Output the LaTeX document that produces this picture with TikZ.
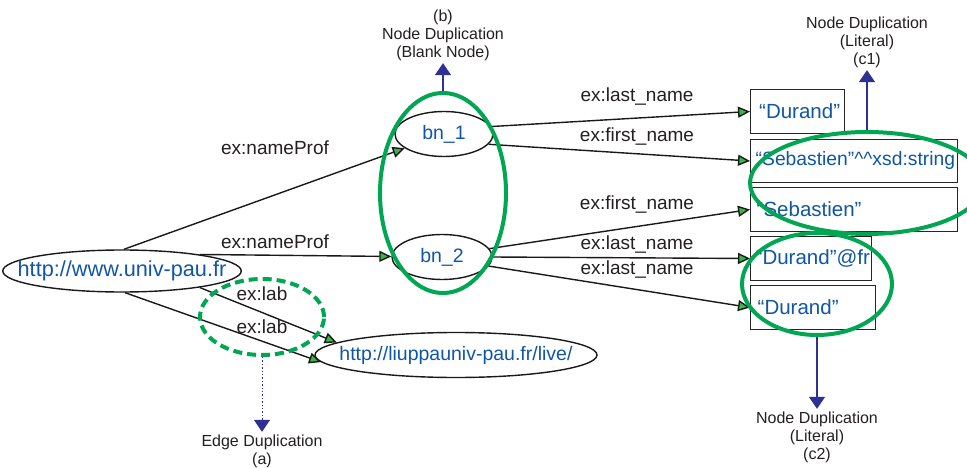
\documentclass[tikz,border=0pt]{standalone}
\usepackage{fontspec}
\setmainfont{Liberation Sans}
\usetikzlibrary{shapes.geometric,arrows.meta}
\tikzset{
    every picture/.style={
        line width=1.4pt
    },
    % Style for the resource and blank nodes
    uri node/.style={
        ellipse, draw=black!90, inner xsep=-20pt, inner ysep=0pt,
        text=uriBlue, font=\fontsize{19.5}{22}\selectfont
    },
    blank node/.style={
        uri node, font=\fontsize{19.5}{22}\selectfont
    },
    % Style for the literal boxes
    literal box/.style={
        rectangle, draw=black!85, fill=white, anchor=north west,
        minimum height=43.6pt, inner xsep=6pt, align=left,
        text=uriBlue, font=\fontsize{20.5}{23}\selectfont
    },
    % Style for the edge labels
    edge label/.style={
        text=labelGray, inner sep=0pt,
        font=\fontsize{19}{22}\selectfont
    },
    triple/.style={
        draw=black!90, -{Triangle[length=12pt,width=11pt,fill=arrowGreen]}
    },
    % Style for the duplication marks
    dup ring/.style={
        ellipse, draw=ringGreen, line width=4pt, inner sep=0pt
    },
    dup label/.style={
        align=center, text=labelGray, inner sep=2pt,
        font=\fontsize{16}{18}\selectfont
    },
    dup arrow/.style={
        draw=navy, line width=1.4pt, -{Triangle[length=12pt,width=16pt,fill=navy]}
    }
}
\definecolor{uriBlue}{RGB}{16,86,166}
\definecolor{labelGray}{RGB}{35,31,32}
\definecolor{arrowGreen}{RGB}{57,181,74}
\definecolor{ringGreen}{RGB}{0,166,81}
\definecolor{navy}{RGB}{46,49,146}

\begin{document}
\begin{tikzpicture}[x=1pt,y=-1pt]

% Set the canvas size
\path[use as bounding box] (0,0) rectangle (967,468);

% Resources and blank nodes
\node[uri node, font=\fontsize{21.7}{24}\selectfont, minimum width=222pt, minimum height=42pt] (univ) at (122,271) {http://www.univ-pau.fr};
\node[blank node, minimum width=98pt, minimum height=45pt] (bn1) at (444,134) {bn\_1};
\node[blank node, minimum width=100pt, minimum height=45pt] (bn2) at (442,257) {bn\_2};
\node[uri node, minimum width=282pt, minimum height=45pt] (live) at (456,355) {http://liuppauniv-pau.fr/live/};

% Literals
\node[literal box, text width=77pt, inner xsep=8.5pt] (durandA) at (750,89) {“Durand”};
\node[literal box, font=\fontsize{19.3}{22}\selectfont, text width=196.6pt, inner xsep=5pt, minimum height=42.6pt] (sebTyped) at (750,139) {“Sebastien”\textasciicircum\textasciicircum xsd:string};
\node[literal box, text width=194.6pt] (seb) at (750,187) {“Sebastien”};
\node[literal box, text width=110.6pt, inner xsep=5pt] (durandFr) at (750,236) {“Durand”@fr};
\node[literal box, text width=110.6pt, inner xsep=7pt] (durandB) at (750,285) {“Durand”};

% Triples
\draw[triple] (univ.85) -- (bn1);
\draw[triple] (univ.12) -- (bn2);
\draw[triple] (univ.-12) -- (live.174);
\draw[triple] (univ.-82) -- (live.183);
\draw[triple] (bn1.9) -- (durandA.west);
\draw[triple] (bn1.-13) -- (sebTyped.west);
\draw[triple] (bn2.10) -- (seb.west);
\draw[triple] (bn2.0) -- (durandFr.west);
\draw[triple] (bn2.-11) -- (durandB.west);

% Edge labels
\node[edge label] (nameProfA) at (275,148) {ex:nameProf};
\node[edge label] (nameProfB) at (275,242) {ex:nameProf};
\node[edge label] (labA) at (262,294) {ex:lab};
\node[edge label] (labB) at (262,327) {ex:lab};
\node[edge label] (lastA) at (637,97) {ex:last\_name};
\node[edge label] (firstA) at (637,137) {ex:first\_name};
\node[edge label] (firstB) at (637,205) {ex:first\_name};
\node[edge label] (lastB) at (637,245) {ex:last\_name};
\node[edge label] (lastC) at (637,270) {ex:last\_name};

% Duplication marks
\node[dup ring, dash pattern=on 9pt off 5pt, minimum width=124pt, minimum height=76pt] (ringA) at (262,317) {};
\node[dup ring, minimum width=126pt, minimum height=200pt] (ringB) at (443,193) {};
\node[dup ring, minimum width=234pt, minimum height=102pt] (ringC1) at (867,183) {};
\node[dup ring, minimum width=150pt, minimum height=102pt] (ringC2) at (817,284) {};

\node[dup label] (textA) at (262,451) {Edge Duplication\\(a)};
\node[dup label] (textB) at (443,35) {(b)\\Node Duplication\\(Blank Node)};
\node[dup label] (textC1) at (867,42) {Node Duplication\\(Literal)\\(c1)};
\node[dup label] (textC2) at (817,437) {Node Duplication\\(Literal)\\(c2)};

\draw[dup arrow, dotted, line width=1pt] (ringA) -- (textA);
\draw[dup arrow] (ringB) -- (textB);
\draw[dup arrow] (ringC1) -- (textC1);
\draw[dup arrow] (ringC2) -- (textC2);

\end{tikzpicture}
\end{document}
